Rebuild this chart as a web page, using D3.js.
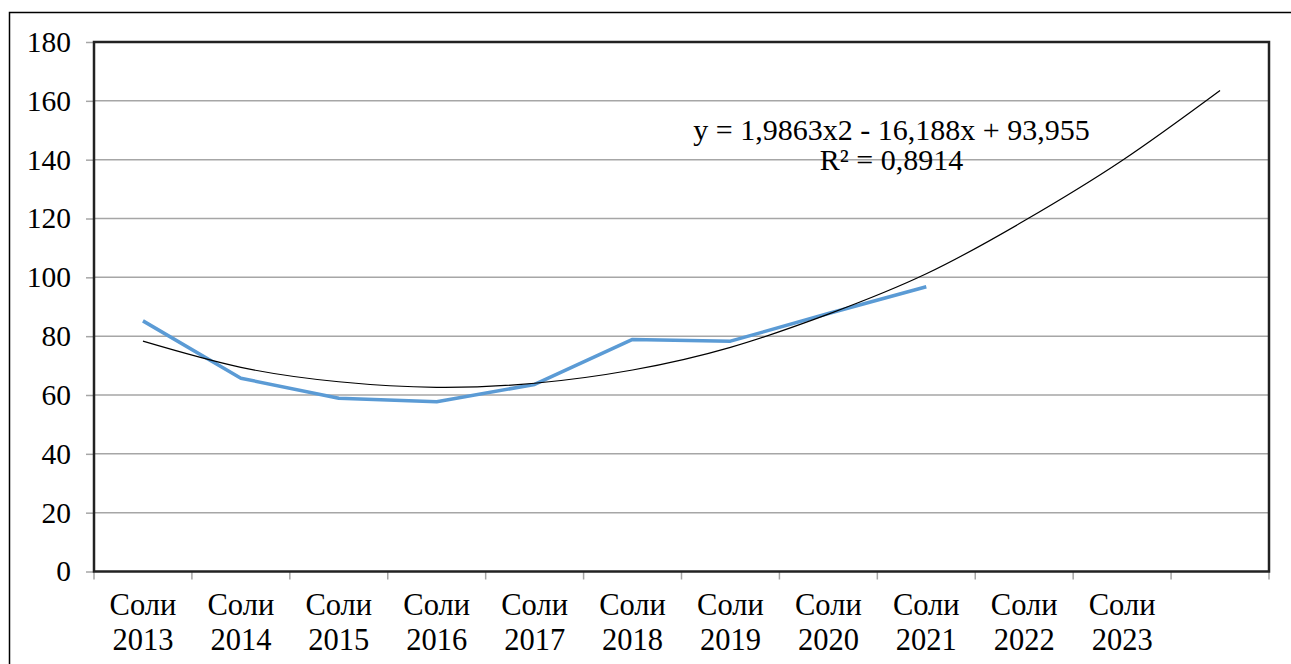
<!DOCTYPE html>
<html>
<head>
<meta charset="utf-8">
<script src="https://cdn.jsdelivr.net/npm/d3@7"></script>
<style>
  body { margin: 0; background: #fff; }
  svg text { fill: #000; }
</style>
</head>
<body>
<script>
// categories (last band has no label, only trend forecast)
var years = ["2013", "2014", "2015", "2016", "2017", "2018", "2019", "2020", "2021", "2022", "2023", ""];
var values = [85.2, 65.7, 58.9, 57.7, 63.6, 78.9, 78.3, 87.7, 96.8];
// polynomial trend as drawn in the picture
var trend = [78.3, 69.4, 64.5, 62.6, 64.0, 68.5, 76.2, 87.5, 101.2, 119.2, 139.7, 163.5];
var yTicks = [0, 20, 40, 60, 80, 100, 120, 140, 160, 180];
var eqLine1 = "y = 1,9863x2 - 16,188x + 93,955";
var eqLine2 = "R² = 0,8914";

var serif = "'Liberation Serif'";
var svgWidth = 1291, svgHeight = 664;
var margin = {top: 42, right: 22, bottom: 92.5, left: 94};
var width = svgWidth - margin.left - margin.right;
var height = svgHeight - margin.top - margin.bottom;

var svg = d3.select("body").append("svg").attr("width", svgWidth).attr("height", svgHeight);

// outer frame (open on the right)
svg.append("path")
  .attr("d", "M1291,12.5H9.5V664")
  .attr("fill", "none").attr("stroke", "#000").attr("stroke-width", 1.5);

var chart = svg.append("g").attr("transform", `translate(${margin.left},${margin.top})`);

var x = d3.scaleBand().domain(d3.range(years.length)).range([0, width]).padding(0);
var y = d3.scaleLinear().domain([0, 180]).range([height, 0]);
var cx = function(i) { return x(i) + x.bandwidth() / 2; };

// gridlines
chart.append("g").selectAll("line")
  .data(yTicks.filter(function(d) { return d > 0 && d < 180; }))
  .enter().append("line")
  .attr("x1", 0).attr("x2", width)
  .attr("y1", function(d) { return y(d); }).attr("y2", function(d) { return y(d); })
  .attr("stroke", "#a6a6a6").attr("stroke-width", 1.5);

// y axis
var yAxis = chart.append("g")
  .call(d3.axisLeft(y).tickValues(yTicks).tickSize(8).tickPadding(15).tickFormat(d3.format("d")));
yAxis.attr("font-family", null).attr("font-size", null);
yAxis.select(".domain").remove();
yAxis.selectAll(".tick line").attr("stroke", "#a6a6a6").attr("stroke-width", 1.5);
yAxis.selectAll(".tick text").style("font-family", serif).style("font-size", "29.5px");

// x axis ticks at band edges
var edges = d3.range(years.length + 1).map(function(i) { return i * x.bandwidth(); });
chart.append("g").selectAll("line")
  .data(edges).enter().append("line")
  .attr("x1", function(d) { return d; }).attr("x2", function(d) { return d; })
  .attr("y1", height).attr("y2", height + 8)
  .attr("stroke", "#a6a6a6").attr("stroke-width", 1.5);

// x labels
var lab = chart.append("g").selectAll("text")
  .data(years.map(function(d, i) { return {y: d, i: i}; }).filter(function(d) { return d.y !== ""; }))
  .enter().append("text")
  .attr("text-anchor", "middle")
  .style("font-family", serif)
  .style("font-size", "30.5px");
lab.append("tspan").attr("x", function(d) { return cx(d.i); }).attr("y", height + 43.5).text("Соли");
lab.append("tspan").attr("x", function(d) { return cx(d.i); }).attr("y", height + 78.5).text(function(d) { return d.y; });

// plot frame (left, top, right, bottom)
chart.append("rect")
  .attr("x", 0).attr("y", 0).attr("width", width).attr("height", height)
  .attr("fill", "none").attr("stroke", "#222").attr("stroke-width", 2.5);

// data line
var line = d3.line().x(function(d, i) { return cx(i); }).y(function(d) { return y(d); });
chart.append("path")
  .datum(values)
  .attr("d", line)
  .attr("fill", "none").attr("stroke", "#5b9bd5").attr("stroke-width", 3.5)
  .attr("stroke-linejoin", "round");

// trend line
chart.append("path")
  .datum(trend)
  .attr("d", line.curve(d3.curveNatural))
  .attr("fill", "none").attr("stroke", "#000").attr("stroke-width", 1.2);

// equation
chart.append("text").attr("x", 891.5 - margin.left).attr("y", 140 - margin.top)
  .attr("text-anchor", "middle").style("font-family", serif).style("font-size", "30px").text(eqLine1);
chart.append("text").attr("x", 891.5 - margin.left).attr("y", 170 - margin.top)
  .attr("text-anchor", "middle").style("font-family", serif).style("font-size", "30px").text(eqLine2);
</script>
</body>
</html>
